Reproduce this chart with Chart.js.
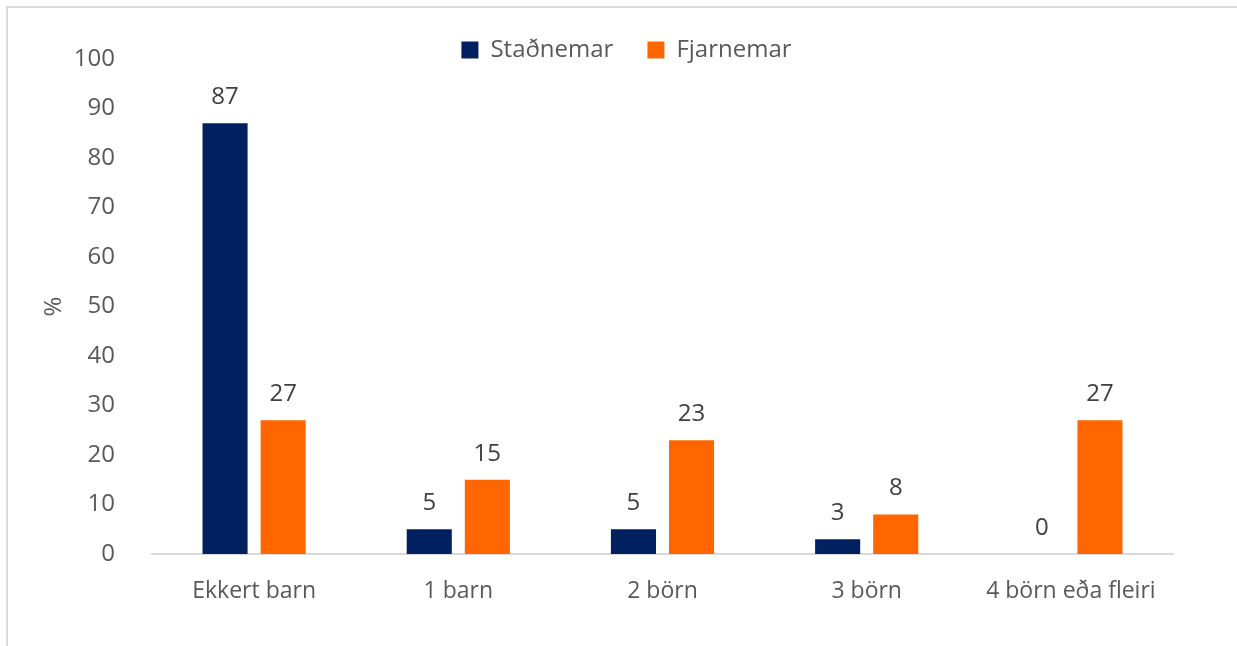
<!DOCTYPE html>
<html>
<head>
<meta charset="utf-8">
<script src="https://cdn.jsdelivr.net/npm/chart.js@4/dist/chart.umd.min.js"></script>
<style>
html,body{margin:0;padding:0;background:#fff;overflow:hidden;}
canvas{display:block;}
</style>
</head>
<body>
<canvas id="c" width="1237" height="646"></canvas>
<script>
const categories = ['Ekkert barn', '1 barn', '2 börn', '3 börn', '4 börn eða fleiri'];
const stadnemar = [87, 5, 5, 3, 0];
const fjarnemar = [27, 15, 23, 8, 27];
const seriesNames = ['Staðnemar', 'Fjarnemar'];
const yTicks = [0, 10, 20, 30, 40, 50, 60, 70, 80, 90, 100];

const FONT = "'Open Sans', 'Noto Sans', sans-serif";

const framePlugin = {
  id: 'frame',
  beforeDraw(chart) {
    const ctx = chart.ctx;
    ctx.save();
    ctx.fillStyle = '#fff';
    ctx.fillRect(0, 0, chart.width, chart.height);
    ctx.strokeStyle = '#d9d9d9';
    ctx.lineWidth = 2;
    ctx.beginPath();
    ctx.moveTo(7, chart.height);
    ctx.lineTo(7, 7);
    ctx.lineTo(chart.width, 7);
    ctx.stroke();
    ctx.restore();
  },
  afterLayout(chart) {
    const lg = chart.legend;
    if (lg) {
      lg.top += 13; lg.bottom += 13;
      lg.left += 40; lg.right += 40;
    }
  }
};

const valueLabels = {
  id: 'valueLabels',
  afterDatasetsDraw(chart) {
    const ctx = chart.ctx;
    ctx.save();
    ctx.font = '24px ' + FONT;
    ctx.fillStyle = '#404040';
    ctx.textAlign = 'center';
    ctx.textBaseline = 'alphabetic';
    chart.data.datasets.forEach((ds, di) => {
      const meta = chart.getDatasetMeta(di);
      meta.data.forEach((bar, i) => {
        ctx.fillText(String(ds.data[i]), bar.x, bar.y - 19);
      });
    });
    ctx.restore();
  }
};

new Chart(document.getElementById('c'), {
  type: 'bar',
  data: {
    labels: categories,
    datasets: [
      { label: seriesNames[0], data: stadnemar, backgroundColor: '#002060', categoryPercentage: 0.569, barPercentage: 0.776 },
      { label: seriesNames[1], data: fjarnemar, backgroundColor: '#ff6600', categoryPercentage: 0.569, barPercentage: 0.776 }
    ]
  },
  options: {
    responsive: false,
    devicePixelRatio: 1,
    animation: false,
    layout: { padding: { left: 0, right: 64, top: -9, bottom: 0 } },
    plugins: {
      legend: {
        display: true,
        position: 'top',
        labels: {
          boxWidth: 17, boxHeight: 17, padding: 34,
          color: '#595959',
          font: { family: FONT, size: 24 }
        }
      },
      tooltip: { enabled: false }
    },
    scales: {
      x: {
        grid: { display: false },
        border: { display: true, color: '#d9d9d9', width: 2 },
        ticks: { color: '#595959', font: { family: FONT, size: 23 }, padding: 16, maxRotation: 0 },
        afterFit(s) { s.height = 92; }
      },
      y: {
        min: 0, max: 100,
        grid: { display: false },
        border: { display: false },
        afterBuildTicks(s) { s.ticks = yTicks.map(v => ({ value: v })); },
        ticks: { color: '#595959', font: { family: FONT, size: 24 }, padding: 29 },
        title: { display: true, text: '%', color: '#595959', font: { family: FONT, size: 24 }, padding: { top: 40, bottom: 0 } },
        afterFit(s) { s.width = 152; }
      }
    }
  },
  plugins: [framePlugin, valueLabels]
});
</script>
</body>
</html>
